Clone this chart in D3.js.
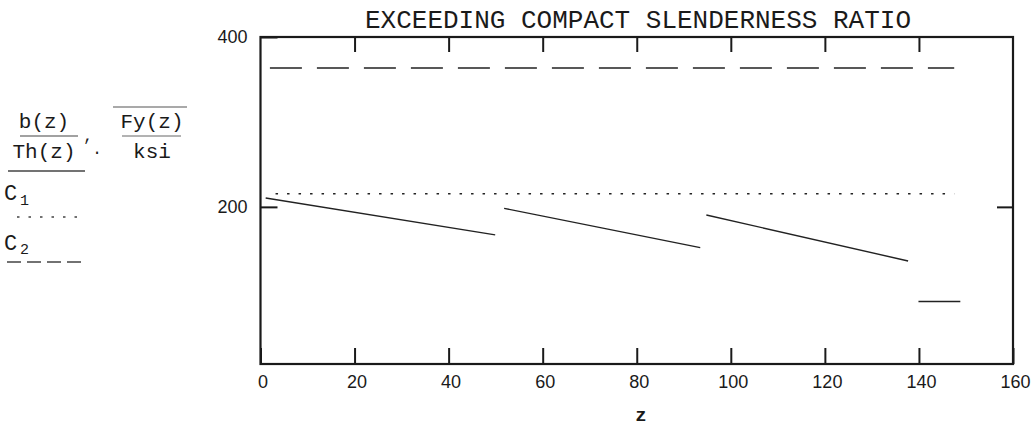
<!DOCTYPE html>
<html>
<head>
<meta charset="utf-8">
<script src="https://cdn.jsdelivr.net/npm/d3@7"></script>
<style>
  html, body { margin: 0; padding: 0; background: #fff; }
  svg { display: block; }
</style>
</head>
<body>
<svg id="chart" width="1034" height="428"></svg>
<script>
// ---- data ----
const titleText = "EXCEEDING COMPACT SLENDERNESS RATIO";
const xLabel = "z";
const xTickValues = [0, 20, 40, 60, 80, 100, 120, 140, 160];
const yTickValues = [200, 400];

// b(z)/Th(z) * sqrt(Fy(z)/ksi) : sawtooth segments (NaN = gap)
const slenderZ   = [1.1, 49.9, NaN, 51.8, 93.5, NaN, 94.8, 137.7, NaN, 139.9, 148.8];
const slenderVal = [210.4, 167.0, NaN, 198.3, 152.0, NaN, 190.4, 136.3, NaN, 88.6, 88.6];

// C1 (compact limit, dotted)
const c1Z   = [3.2, 147.5];
const c1Val = [215.5, 215.5];

// C2 (dashed)
const c2Z   = [2.0, 147.5];
const c2Val = [363.5, 363.5];

// ---- layout ----
const svg = d3.select("#chart");
const L = 260.5, R = 1013, T = 37, B = 364;

const x = d3.scaleLinear().domain([0, 160]).range([L, R]);
const y = d3.scaleLinear().domain([15, 400]).range([B, T]);

const ink = "#1a1a1a";
const mono = "'Liberation Mono', 'Courier New', monospace";
const sans = "'Liberation Sans', Arial, sans-serif";

// title
svg.append("text")
  .attr("x", 638).attr("y", 28)
  .attr("text-anchor", "middle")
  .attr("font-family", mono).attr("font-size", 26)
  .attr("textLength", 546).attr("lengthAdjust", "spacingAndGlyphs")
  .attr("fill", ink)
  .text(titleText);

// traces
const line = d3.line()
  .defined(d => !isNaN(d[1]))
  .x(d => x(d[0])).y(d => y(d[1]));

svg.append("path")
  .datum(c2Z.map((z, i) => [z, c2Val[i]]))
  .attr("d", line).attr("fill", "none")
  .attr("stroke", "#222").attr("stroke-width", 1.4)
  .attr("stroke-dasharray", "32,15");

svg.append("path")
  .datum(c1Z.map((z, i) => [z, c1Val[i]]))
  .attr("d", line).attr("fill", "none")
  .attr("stroke", "#222").attr("stroke-width", 1.4)
  .attr("stroke-dasharray", "2.5,9");

svg.append("path")
  .datum(slenderZ.map((z, i) => [z, slenderVal[i]]))
  .attr("d", line).attr("fill", "none")
  .attr("stroke", "#222").attr("stroke-width", 1.4);

// axes (ticks drawn inward, like the reference)
const gB = svg.append("g").attr("transform", `translate(0,${B})`)
  .call(d3.axisBottom(x).tickValues(xTickValues).tickSizeInner(-16).tickSizeOuter(0).tickPadding(11));
const gT = svg.append("g").attr("transform", `translate(0,${T})`)
  .call(d3.axisTop(x).tickValues(xTickValues.slice(1, -1)).tickSizeInner(-15).tickSizeOuter(0).tickFormat(""));
const gL = svg.append("g").attr("transform", `translate(${L},0)`)
  .call(d3.axisLeft(y).tickValues(yTickValues).tickSizeInner(-17).tickSizeOuter(0).tickPadding(12));
const gR = svg.append("g").attr("transform", `translate(${R},0)`)
  .call(d3.axisRight(y).tickValues([200]).tickSizeInner(-16).tickSizeOuter(0).tickFormat(""));

[gB, gT, gL, gR].forEach(g => {
  g.select(".domain").remove();
  g.selectAll(".tick line").attr("stroke", ink).attr("stroke-width", 2);
  g.selectAll("text")
    .attr("font-family", sans).attr("font-size", 18)
    .attr("fill", ink);
});
gB.selectAll("text").attr("dx", 2);
gL.selectAll("text").attr("dx", -1);

// frame
svg.append("rect")
  .attr("x", L).attr("y", T).attr("width", R - L).attr("height", B - T)
  .attr("fill", "none").attr("stroke", ink).attr("stroke-width", 2.2);

// x axis label
svg.append("text")
  .attr("x", 641).attr("y", 421).attr("text-anchor", "middle")
  .attr("font-family", mono).attr("font-size", 19).attr("font-weight", "bold")
  .attr("fill", ink).text(xLabel);

// ---- y-axis expression legend (Mathcad style) ----
const lg = svg.append("g").attr("font-family", mono).attr("fill", ink);
function txt(s, cx, by, size, anchor) {
  return lg.append("text").attr("x", cx).attr("y", by)
    .attr("text-anchor", anchor || "middle").attr("font-size", size || 21).text(s);
}
function hline(x1, x2, yy, opts) {
  const l = lg.append("line").attr("x1", x1).attr("x2", x2).attr("y1", yy).attr("y2", yy)
    .attr("stroke", (opts && opts.color) || "#333").attr("stroke-width", (opts && opts.w) || 1.2);
  if (opts && opts.dash) l.attr("stroke-dasharray", opts.dash);
  return l;
}
txt("b(z)", 44, 128, 21);
hline(20, 78, 136, {color: "#444", w: 1.1});
txt("Th(z)", 44, 158, 21);
txt(",", 88, 141, 16);
txt("\u00B7", 97, 157, 16);
hline(113, 187, 107, {color: "#555", w: 1.1});
txt("Fy(z)", 152, 128, 21);
hline(122, 181, 136, {color: "#666", w: 1.0});
txt("ksi", 152, 158, 21);
hline(8, 85, 171, {color: "#444", w: 1.3});

txt("C", 4, 200, 22, "start");
txt("1", 20, 205, 15, "start");
hline(17, 77, 217, {color: "#444", w: 1.3, dash: "2.5,9"});

txt("C", 4, 250, 22, "start");
txt("2", 20, 254, 15, "start");
hline(7, 82, 262, {color: "#444", w: 1.3, dash: "14,6"});
</script>
</body>
</html>
